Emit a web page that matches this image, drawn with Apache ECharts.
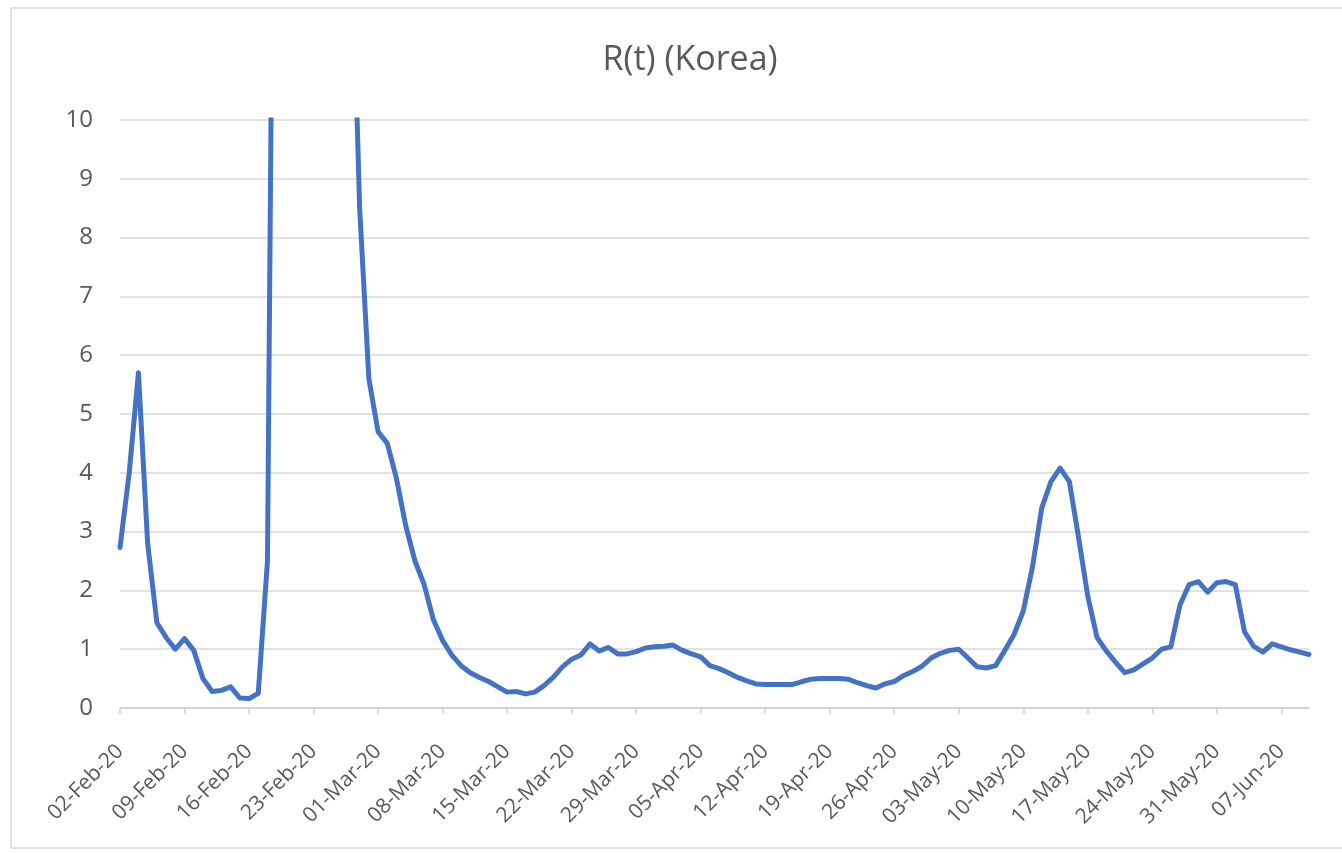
<!DOCTYPE html>
<html>
<head>
<meta charset="utf-8">
<title>R(t) (Korea)</title>
<script src="https://cdn.jsdelivr.net/npm/echarts@6/dist/echarts.min.js"></script>
<style>
  html, body { margin: 0; padding: 0; background: #fff; }
  #chart { width: 1342px; height: 853px; }
</style>
</head>
<body>
<div id="chart"></div>
<script>
// 数据：每日 R(t)，从 2020-02-02 开始
const startDate = "2020-02-02";
const dayCount = 130;
const monthNames = ["Jan", "Feb", "Mar", "Apr", "May", "Jun", "Jul", "Aug", "Sep", "Oct", "Nov", "Dec"];

// values above 10 run off the top of the chart (clipped)
const rtValues = [
  2.73, 4.0, 5.7, 2.8, 1.45, 1.2, 1.0, 1.18, 0.98, 0.5,
  0.28, 0.3, 0.36, 0.17, 0.16, 0.25, 2.5, 22, 35, 40,
  38, 32, 26, 20, 17, 14, 8.5, 5.6, 4.7, 4.5,
  3.9, 3.1, 2.5, 2.1, 1.5, 1.15, 0.9, 0.72, 0.6, 0.52,
  0.45, 0.36, 0.27, 0.28, 0.24, 0.27, 0.38, 0.52, 0.7, 0.83,
  0.9, 1.09, 0.97, 1.03, 0.92, 0.92, 0.96, 1.02, 1.04, 1.05,
  1.07, 0.98, 0.92, 0.87, 0.72, 0.67, 0.6, 0.52, 0.46, 0.41,
  0.4, 0.4, 0.4, 0.4, 0.45, 0.49, 0.5, 0.5, 0.5, 0.49,
  0.43, 0.38, 0.34, 0.41, 0.45, 0.55, 0.62, 0.71, 0.85, 0.93,
  0.98, 1.0, 0.85, 0.7, 0.68, 0.72, 0.98, 1.25, 1.65, 2.4,
  3.4, 3.85, 4.08, 3.85, 2.9, 1.9, 1.2, 0.97, 0.78, 0.6,
  0.65, 0.75, 0.85, 1.0, 1.04, 1.75, 2.1, 2.15, 1.97, 2.13,
  2.15, 2.1, 1.3, 1.05, 0.95, 1.09, 1.04, 0.99, 0.95, 0.91
];

// 日期类目 "02-Feb-20"
const dates = [];
const d0 = new Date(startDate + "T00:00:00");
for (let i = 0; i < dayCount; i++) {
  const d = new Date(d0.getFullYear(), d0.getMonth(), d0.getDate() + i);
  const dd = String(d.getDate()).padStart(2, "0");
  const yy = String(d.getFullYear()).slice(2);
  dates.push(dd + "-" + monthNames[d.getMonth()] + "-" + yy);
}

const chart = echarts.init(document.getElementById("chart"));

const textColor = "#595959";
const fontName = "'Open Sans', Lato, sans-serif";

const option = {
  animation: false,
  backgroundColor: "#fff",
  graphic: [
    {
      // 图表外框
      type: "rect",
      shape: { x: 11, y: 8, width: 1340, height: 840 },
      style: { fill: "none", stroke: "#d9d9d9", lineWidth: 1.5 },
      silent: true,
    },
  ],
  title: {
    text: "R(t) (Korea)",
    left: 685,
    top: 38,
    textAlign: "center",
    textStyle: {
      color: textColor,
      fontFamily: fontName,
      fontWeight: "normal",
      fontSize: 34,
    },
  },
  grid: {
    left: 120,
    right: 33,
    top: 120,
    bottom: 145,
    containLabel: false,
  },
  xAxis: {
    type: "category",
    boundaryGap: false,
    data: dates,
    axisLine: { lineStyle: { color: "#d0d0d0", width: 1.5 } },
    axisTick: {
      interval: 6,
      length: 6,
      lineStyle: { color: "#d0d0d0", width: 1.5 },
    },
    axisLabel: {
      interval: 6,
      rotate: 45,
      margin: 40,
      color: textColor,
      fontFamily: fontName,
      fontSize: 21,
    },
    splitLine: { show: false },
  },
  yAxis: {
    type: "value",
    min: 0,
    max: 10,
    interval: 1,
    axisLine: { show: false },
    axisTick: { show: false },
    axisLabel: {
      margin: 27,
      color: textColor,
      fontFamily: fontName,
      fontSize: 24,
    },
    splitLine: { lineStyle: { color: "#d9d9d9", width: 1.5 } },
  },
  series: [
    {
      name: "R(t)",
      type: "line",
      data: rtValues,
      showSymbol: false,
      clip: true,
      lineStyle: { color: "#4472C4", width: 5, join: "round", cap: "round" },
      itemStyle: { color: "#4472C4" },
    },
  ],
};

chart.setOption(option);
</script>
</body>
</html>
